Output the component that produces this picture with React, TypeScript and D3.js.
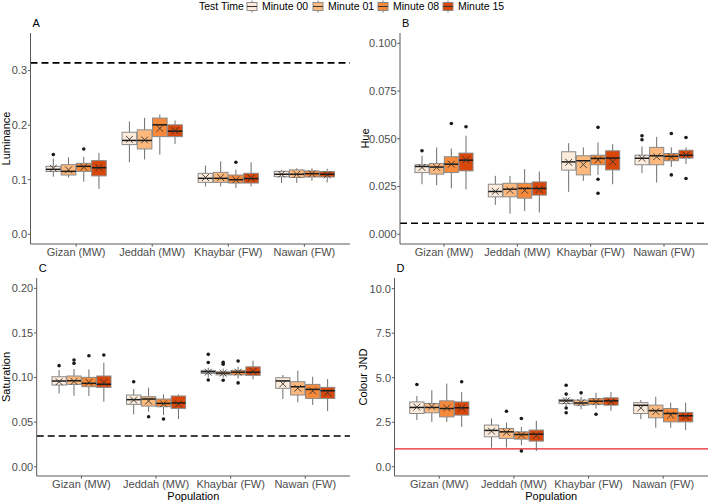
import React from "react";
import * as d3 from "d3";

const populations = ["Gizan (MW)", "Jeddah (MW)", "Khaybar (FW)", "Nawan (FW)"];
const testTimes = ["Minute 00", "Minute 01", "Minute 08", "Minute 15"];
const timeColors = ["#FDEBDB", "#FDB97D", "#F68A3A", "#D9480A"];

// rows: [lowerWhisker, q1, median, q3, upperWhisker, mean], population-major, time-minor
const luminanceStats = [
  [0.1055, 0.115, 0.119, 0.1245, 0.139, 0.121],
  [0.104, 0.1086, 0.1153, 0.1276, 0.141, 0.118],
  [0.0963, 0.1153, 0.1245, 0.13, 0.142, 0.123],
  [0.083, 0.107, 0.122, 0.135, 0.149, 0.122],
  [0.132, 0.1644, 0.172, 0.187, 0.2067, 0.174],
  [0.137, 0.1564, 0.172, 0.1914, 0.2135, 0.173],
  [0.146, 0.179, 0.2006, 0.213, 0.2196, 0.194],
  [0.1656, 0.179, 0.189, 0.2006, 0.2086, 0.19],
  [0.0877, 0.0951, 0.1025, 0.1117, 0.1258, 0.104],
  [0.0877, 0.0951, 0.1025, 0.1135, 0.1337, 0.104],
  [0.0847, 0.0939, 0.1, 0.1086, 0.1184, 0.1],
  [0.0877, 0.0939, 0.102, 0.1117, 0.1319, 0.103],
  [0.094, 0.1055, 0.11, 0.1153, 0.118, 0.11],
  [0.094, 0.104, 0.11, 0.118, 0.121, 0.11],
  [0.098, 0.105, 0.111, 0.116, 0.121, 0.111],
  [0.095, 0.105, 0.11, 0.115, 0.12, 0.109],
];
const luminanceOutliers = [
  [0, 0, 0.146], [0, 2, 0.1564], [2, 2, 0.1319],
];

const hueStats = [
  [0.0262, 0.0323, 0.0355, 0.0364, 0.0411, 0.035],
  [0.0257, 0.0315, 0.0352, 0.0371, 0.0455, 0.035],
  [0.0241, 0.0323, 0.0367, 0.0406, 0.0449, 0.0367],
  [0.0235, 0.0332, 0.0388, 0.0425, 0.0516, 0.039],
  [0.0154, 0.0196, 0.0224, 0.0262, 0.0306, 0.0224],
  [0.0108, 0.0196, 0.0236, 0.0267, 0.0306, 0.023],
  [0.0122, 0.0189, 0.024, 0.0267, 0.0341, 0.023],
  [0.0114, 0.0205, 0.024, 0.0274, 0.0329, 0.0235],
  [0.0222, 0.0336, 0.0379, 0.0432, 0.0477, 0.0377],
  [0.028, 0.0311, 0.0385, 0.0411, 0.0455, 0.0365],
  [0.0311, 0.0364, 0.0397, 0.0414, 0.0481, 0.039],
  [0.0262, 0.0337, 0.0399, 0.0437, 0.0472, 0.038],
  [0.032, 0.0364, 0.0398, 0.0414, 0.046, 0.0398],
  [0.0271, 0.0364, 0.0411, 0.0455, 0.051, 0.0406],
  [0.0353, 0.0385, 0.0408, 0.0423, 0.0455, 0.0405],
  [0.0367, 0.0399, 0.0414, 0.044, 0.0455, 0.0415],
];
const hueOutliers = [
  [0, 0, 0.0437], [0, 2, 0.058], [0, 3, 0.0563],
  [2, 2, 0.056], [2, 2, 0.0288], [2, 2, 0.0215],
  [3, 0, 0.0516], [3, 0, 0.0495], [3, 2, 0.0528], [3, 2, 0.0311],
  [3, 3, 0.0507], [3, 3, 0.0292],
];

const saturationStats = [
  [0.0822, 0.0916, 0.0961, 0.1009, 0.1084, 0.0953],
  [0.0796, 0.0923, 0.0964, 0.1017, 0.1095, 0.0957],
  [0.0793, 0.0897, 0.0935, 0.1002, 0.1092, 0.0946],
  [0.0729, 0.089, 0.0925, 0.1017, 0.1166, 0.0946],
  [0.0587, 0.0699, 0.0752, 0.0804, 0.0871, 0.0748],
  [0.0617, 0.068, 0.0759, 0.0785, 0.0886, 0.0736],
  [0.0579, 0.0673, 0.071, 0.0759, 0.0811, 0.0706],
  [0.0535, 0.0654, 0.0715, 0.0793, 0.0811, 0.0703],
  [0.1, 0.1045, 0.1065, 0.108, 0.111, 0.106],
  [0.1, 0.103, 0.105, 0.1065, 0.11, 0.105],
  [0.099, 0.103, 0.106, 0.108, 0.112, 0.106],
  [0.098, 0.1025, 0.106, 0.112, 0.119, 0.107],
  [0.0759, 0.0879, 0.0962, 0.0998, 0.1028, 0.093],
  [0.0721, 0.0804, 0.0897, 0.0953, 0.1077, 0.088],
  [0.0692, 0.0766, 0.0867, 0.0923, 0.1009, 0.085],
  [0.0624, 0.0766, 0.0852, 0.089, 0.0983, 0.083],
];
const saturationOutliers = [
  [0, 0, 0.1133], [0, 1, 0.1196], [0, 1, 0.1159], [0, 2, 0.1245], [0, 3, 0.1252],
  [1, 0, 0.0953], [1, 1, 0.0561], [1, 2, 0.0535],
  [2, 0, 0.126], [2, 0, 0.1168], [2, 0, 0.0972],
  [2, 1, 0.117], [2, 1, 0.115], [2, 1, 0.097],
  [2, 2, 0.1185], [2, 2, 0.094],
];

const jndStats = [
  [2.62, 2.99, 3.33, 3.64, 3.98, 3.35],
  [2.52, 3.03, 3.33, 3.55, 4.3, 3.38],
  [2.52, 2.8, 3.27, 3.7, 4.67, 3.3],
  [2.24, 2.9, 3.31, 3.64, 4.2, 3.3],
  [1.07, 1.68, 2.04, 2.34, 2.71, 2.0],
  [1.08, 1.59, 1.96, 2.15, 2.47, 1.93],
  [1.21, 1.55, 1.81, 1.96, 2.24, 1.78],
  [0.88, 1.44, 1.83, 2.06, 2.58, 1.75],
  [3.4, 3.55, 3.7, 3.78, 3.92, 3.7],
  [3.23, 3.46, 3.58, 3.74, 3.93, 3.6],
  [3.27, 3.5, 3.68, 3.83, 4.15, 3.65],
  [3.14, 3.46, 3.7, 3.87, 4.2, 3.65],
  [2.67, 2.99, 3.45, 3.6, 3.74, 3.3],
  [2.19, 2.75, 3.15, 3.46, 3.93, 3.1],
  [2.19, 2.52, 2.99, 3.27, 3.6, 2.9],
  [2.06, 2.52, 2.86, 3.05, 3.6, 2.82],
];
const jndOutliers = [
  [0, 0, 4.62], [0, 3, 4.77],
  [1, 1, 3.12], [1, 2, 2.71], [1, 2, 0.88],
  [2, 0, 4.58], [2, 0, 4.08], [2, 0, 3.3], [2, 0, 3.03],
  [2, 1, 4.15], [2, 2, 2.95],
];

const luminanceTicks = [0, 0.1, 0.2, 0.3];
const hueTicks = [0, 0.025, 0.05, 0.075, 0.1];
const saturationTicks = [0, 0.05, 0.1, 0.15, 0.2];
const jndTicks = [0, 2.5, 5, 7.5, 10];

const referenceLines = [0.3142, 0.0058, 0.0344, 1.0];

const FONT = "'Liberation Sans', Arial, Helvetica, sans-serif";
const FS = 11;

type PanelCfg = {
  letter: string;
  title: string;
  stats: number[][];
  outliers: number[][];
  ticks: number[];
  tickFmt: (v: number) => string;
  domain: [number, number];
  refLine: number;
  refColor: string;
  refDash: string | undefined;
  x0: number; x1: number; y0: number; y1: number;
  titleX: number;
  showXTitle: boolean;
};

const panels: PanelCfg[] = [
  {
    letter: "A", title: "Luminance", stats: luminanceStats, outliers: luminanceOutliers,
    ticks: luminanceTicks, tickFmt: d3.format(".1f"), domain: [-0.0179, 0.369],
    refLine: referenceLines[0], refColor: "#000", refDash: "7,4",
    x0: 30.5, x1: 350, y0: 33, y1: 244, titleX: 10, showXTitle: false,
  },
  {
    letter: "B", title: "Hue", stats: hueStats, outliers: hueOutliers,
    ticks: hueTicks, tickFmt: d3.format(".3f"), domain: [-0.0051, 0.1054],
    refLine: referenceLines[1], refColor: "#000", refDash: "7,4",
    x0: 400, x1: 708, y0: 33, y1: 244, titleX: 369, showXTitle: false,
  },
  {
    letter: "C", title: "Saturation", stats: saturationStats, outliers: saturationOutliers,
    ticks: saturationTicks, tickFmt: d3.format(".2f"), domain: [-0.0104, 0.2116],
    refLine: referenceLines[2], refColor: "#000", refDash: "7,4",
    x0: 36.7, x1: 350, y0: 278, y1: 476, titleX: 9.5, showXTitle: true,
  },
  {
    letter: "D", title: "Colour JND", stats: jndStats, outliers: jndOutliers,
    ticks: jndTicks, tickFmt: d3.format(".1f"), domain: [-0.52, 10.6],
    refLine: referenceLines[3], refColor: "#E8202A", refDash: undefined,
    x0: 394.5, x1: 708, y0: 278, y1: 476, titleX: 367, showXTitle: true,
  },
];

function Panel({ p }: { p: PanelCfg }) {
  const x = d3.scalePoint<string>().domain(populations).range([p.x0, p.x1]).padding(0.6);
  const y = d3.scaleLinear().domain(p.domain).range([p.y1, p.y0]);
  const step = x.step();
  const dodge = d3.scaleBand<string>().domain(testTimes).range([-0.4 * step, 0.4 * step]);
  const bw = dodge.bandwidth();
  const boxW = bw * 0.96;
  const cx = (ci: number, ti: number) => (x(populations[ci]) as number) + (dodge(testTimes[ti]) as number) + bw / 2;
  const grey = "#5a5a5a";
  const m = 3.4;
  return (
    <g>
      <text x={p.x0 + 2} y={p.y0 - 6} fontSize={FS} fontFamily={FONT} fill="#000">{p.letter}</text>
      <line x1={p.x0} x2={p.x1} y1={y(p.refLine)} y2={y(p.refLine)} stroke={p.refColor}
        strokeWidth={p.refDash ? 1.6 : 1.3} strokeDasharray={p.refDash} />
      {p.stats.map((s, i) => {
        const ci = Math.floor(i / 4);
        const ti = i % 4;
        const c = cx(ci, ti);
        const [lo, q1, med, q3, hi, mean] = s;
        return (
          <g key={i}>
            <line x1={c} x2={c} y1={y(hi)} y2={y(q3)} stroke="#6e6e6e" strokeWidth={1} />
            <line x1={c} x2={c} y1={y(q1)} y2={y(lo)} stroke="#6e6e6e" strokeWidth={1} />
            <rect x={c - boxW / 2} y={y(q3)} width={boxW} height={Math.max(0.5, y(q1) - y(q3))}
              fill={timeColors[ti]} stroke="#8a8a8a" strokeWidth={1} />
            <line x1={c - boxW / 2} x2={c + boxW / 2} y1={y(med)} y2={y(med)} stroke="#1a1a1a" strokeWidth={1.5} />
            <path d={`M${c - m},${y(mean) - m}L${c + m},${y(mean) + m}M${c - m},${y(mean) + m}L${c + m},${y(mean) - m}`}
              stroke="#333" strokeWidth={0.9} fill="none" />
          </g>
        );
      })}
      {p.outliers.map((o, i) => (
        <circle key={i} cx={cx(o[0], o[1])} cy={y(o[2])} r={1.8} fill="#1a1a1a" />
      ))}
      <line x1={p.x0} x2={p.x0} y1={p.y0} y2={p.y1} stroke={grey} strokeWidth={1} />
      <line x1={p.x0} x2={p.x1} y1={p.y1} y2={p.y1} stroke={grey} strokeWidth={1} />
      {p.ticks.map((t) => (
        <g key={t}>
          <line x1={p.x0 - 2.7} x2={p.x0} y1={y(t)} y2={y(t)} stroke={grey} strokeWidth={1} />
          <text x={p.x0 - 3.5} y={y(t)} dy="0.35em" textAnchor="end" fontSize={FS}
            fontFamily={FONT} fill="#4d4d4d">{p.tickFmt(t)}</text>
        </g>
      ))}
      {populations.map((c) => (
        <g key={c}>
          <line x1={x(c)} x2={x(c)} y1={p.y1} y2={p.y1 + 2.7} stroke={grey} strokeWidth={1} />
          <text x={x(c)} y={p.y1 + 12} textAnchor="middle" fontSize={FS} fontFamily={FONT}
            fill="#4d4d4d">{c}</text>
        </g>
      ))}
      <text transform={`translate(${p.titleX},${(p.y0 + p.y1) / 2}) rotate(-90)`} textAnchor="middle"
        fontSize={FS} fontFamily={FONT} fill="#000">{p.title}</text>
      {p.showXTitle && (
        <text x={(p.x0 + p.x1) / 2} y={p.y1 + 23.5} textAnchor="middle" fontSize={FS}
          fontFamily={FONT} fill="#000">Population</text>
      )}
    </g>
  );
}

function Legend() {
  const keyX = [247, 313, 378, 443];
  const cy = 6.5;
  return (
    <g fontFamily={FONT} fontSize={10.5}>
      <text x={199} y={cy} dy="0.35em" fill="#000">Test Time</text>
      {testTimes.map((t, i) => (
        <g key={t}>
          <line x1={keyX[i] + 5} x2={keyX[i] + 5} y1={cy - 6} y2={cy + 6} stroke="#777" strokeWidth={1} />
          <rect x={keyX[i]} y={cy - 4} width={10} height={8} fill={timeColors[i]} stroke="#8a8a8a" strokeWidth={1} />
          <line x1={keyX[i]} x2={keyX[i] + 10} y1={cy} y2={cy} stroke="#333" strokeWidth={1} />
          <text x={keyX[i] + 15} y={cy} dy="0.35em" fill="#000">{t}</text>
        </g>
      ))}
    </g>
  );
}

export default function App() {
  return (
    <svg width={709} height={502} style={{ position: "absolute", left: 0, top: 0, background: "#fff" }}>
      <rect width={709} height={502} fill="#fff" />
      <Legend />
      {panels.map((p) => <Panel key={p.letter} p={p} />)}
    </svg>
  );
}
